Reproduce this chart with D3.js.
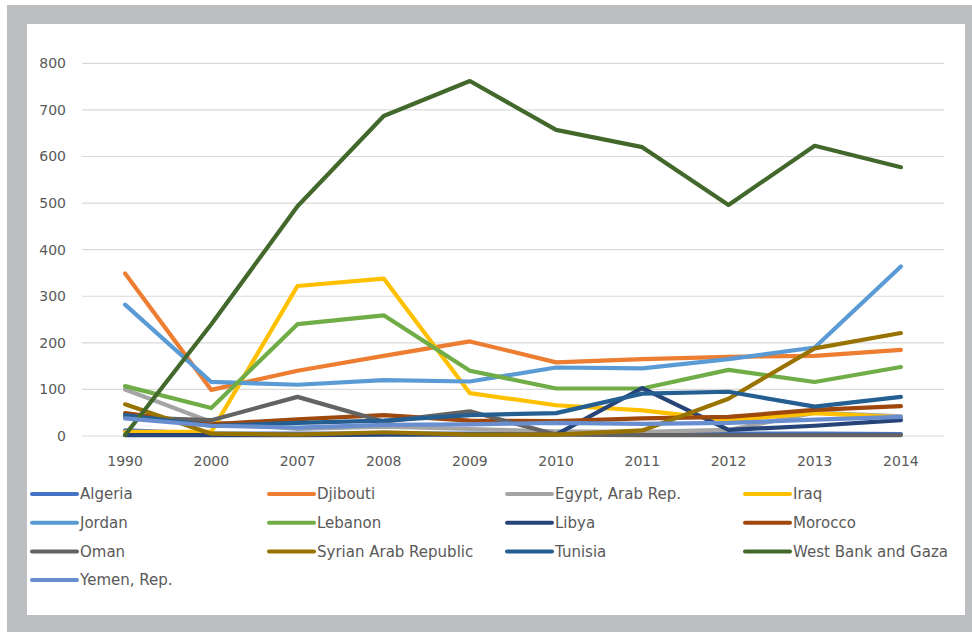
<!DOCTYPE html>
<html>
<head>
<meta charset="utf-8">
<script src="https://cdn.jsdelivr.net/npm/d3@7"></script>
<style>
  html, body { margin: 0; padding: 0; background: #ffffff; }
  svg { display: block; }
  text { font-family: "DejaVu Sans", sans-serif; fill: #595959; }
</style>
</head>
<body>
<svg id="chart" width="972" height="632"></svg>
<script>
// Years on the horizontal axis
const years = ["1990", "2000", "2007", "2008", "2009", "2010", "2011", "2012", "2013", "2014"];

// Value axis ticks
const yTicks = [0, 100, 200, 300, 400, 500, 600, 700, 800];

// Country names, in legend / drawing order
const countries = [
  "Algeria", "Djibouti", "Egypt, Arab Rep.", "Iraq", "Jordan", "Lebanon", "Libya",
  "Morocco", "Oman", "Syrian Arab Republic", "Tunisia", "West Bank and Gaza", "Yemen, Rep."
];

// One series per country, values per year
const algeria   = [12, 5, 5, 5, 5, 5, 5, 5, 5, 4];
const djibouti  = [349, 99, 140, 172, 203, 158, 165, 170, 172, 185];
const egypt     = [100, 30, 15, 20, 15, 10, 9, 13, 50, 42];
const iraq      = [9, 9, 322, 338, 92, 66, 55, 34, 49, 40];
const jordan    = [282, 116, 110, 120, 117, 147, 145, 165, 190, 364];
const lebanon   = [107, 60, 240, 259, 140, 102, 102, 142, 116, 148];
const libya     = [2, 2, 2, 3, 3, 3, 103, 13, 22, 34];
const morocco   = [49, 25, 36, 45, 33, 32, 38, 41, 56, 64];
const oman      = [40, 34, 84, 31, 53, 3, 2, 2, 2, 2];
const syria     = [68, 5, 3, 8, 3, 3, 12, 80, 188, 221];
const tunisia   = [45, 22, 28, 33, 45, 49, 91, 95, 63, 84];
const westBank  = [2, 240, 493, 687, 762, 657, 620, 496, 623, 577];
const yemen     = [38, 22, 18, 24, 25, 28, 26, 28, 35, 41];

const seriesValues = [algeria, djibouti, egypt, iraq, jordan, lebanon, libya,
  morocco, oman, syria, tunisia, westBank, yemen];

const colors = ["#4472C4", "#ED7D31", "#A5A5A5", "#FFC000", "#5B9BD5", "#70AD47", "#264478",
  "#9E480E", "#636363", "#997300", "#255E91", "#43682B", "#698ED0"];

const svg = d3.select("#chart");

// Frame and white panel
svg.append("rect").attr("x", 7).attr("y", 5).attr("width", 965).attr("height", 627).attr("fill", "#bdbec2");
svg.append("rect").attr("x", 27).attr("y", 24).attr("width", 938).attr("height", 591).attr("fill", "#ffffff");

const plot = { left: 82, right: 944, top: 63.3, bottom: 436 };

const x = d3.scaleBand().domain(years).range([plot.left, plot.right]);
const y = d3.scaleLinear().domain([0, 800]).range([plot.bottom, plot.top]);

// Horizontal gridlines
svg.append("g").selectAll("line").data(yTicks).join("line")
  .attr("x1", plot.left).attr("x2", plot.right)
  .attr("y1", d => y(d)).attr("y2", d => y(d))
  .attr("stroke", "#d9d9d9").attr("stroke-width", 1.2);

// Value axis labels
const yAxis = d3.axisLeft(y).tickValues(yTicks).tickSize(0).tickPadding(0);
const gy = svg.append("g").attr("transform", `translate(66,0)`).call(yAxis);
gy.select(".domain").remove();
gy.selectAll("text").attr("font-size", 14).attr("fill", "#595959")
  .style("font-family", "DejaVu Sans, sans-serif");

// Year labels
const xAxis = d3.axisBottom(x).tickSize(0).tickPadding(0);
const gx = svg.append("g").attr("transform", `translate(0,456)`).call(xAxis);
gx.select(".domain").remove();
gx.selectAll("text").attr("font-size", 14).attr("fill", "#595959")
  .style("font-family", "DejaVu Sans, sans-serif");

// Series lines
const line = d3.line()
  .x((d, i) => x(years[i]) + x.bandwidth() / 2)
  .y(d => y(d));

svg.append("g").selectAll("path").data(seriesValues).join("path")
  .attr("d", d => line(d))
  .attr("fill", "none")
  .attr("stroke", (d, i) => colors[i])
  .attr("stroke-width", 4.2)
  .attr("stroke-linejoin", "round")
  .attr("stroke-linecap", "round");

// Legend: four columns
const colX = [32, 269, 507, 745];
const rowY = [494, 522.7, 551.4, 580];
const legend = svg.append("g").selectAll("g").data(countries).join("g")
  .attr("transform", (d, i) => `translate(${colX[i % 4]},${rowY[Math.floor(i / 4)]})`);
legend.append("line")
  .attr("x1", 0).attr("x2", 45).attr("y1", 0).attr("y2", 0)
  .attr("stroke", (d, i) => colors[i]).attr("stroke-width", 4).attr("stroke-linecap", "round");
legend.append("text")
  .attr("x", 48).attr("y", 0).attr("dy", "0.35em")
  .attr("font-size", 15).attr("fill", "#595959")
  .text(d => d);
</script>
</body>
</html>
